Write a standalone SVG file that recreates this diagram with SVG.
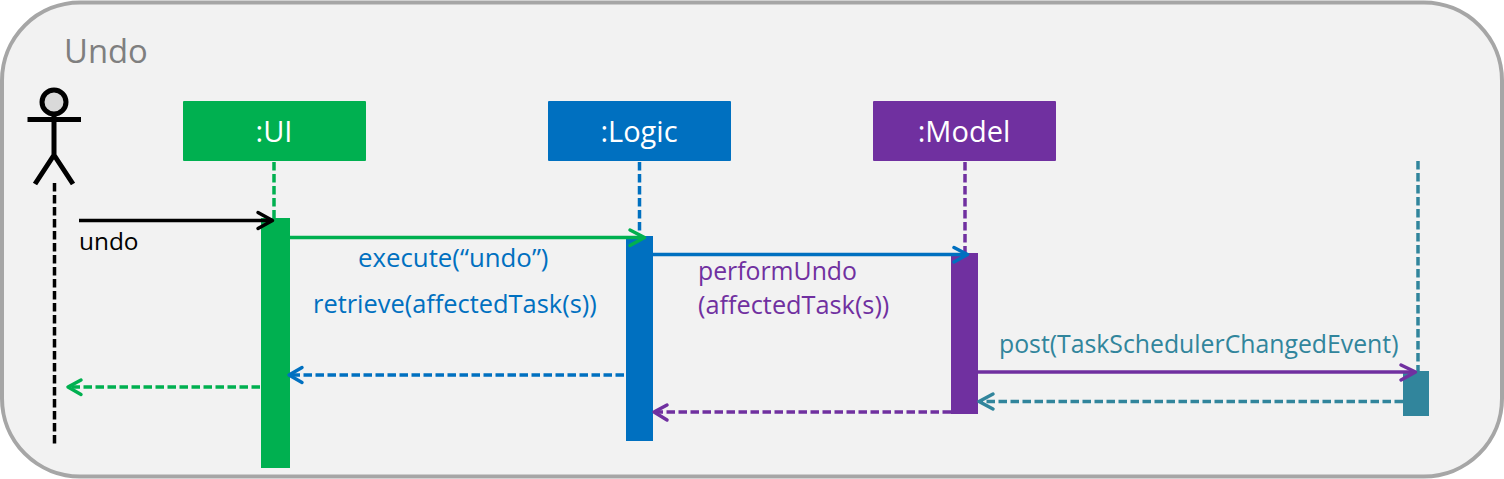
<svg xmlns="http://www.w3.org/2000/svg" width="1504" height="479" viewBox="0 0 1504 479">
<defs>
<style>
text{font-family:"Open Sans","Noto Sans",sans-serif;font-size:24.800px}
.l{fill:none;stroke-width:3.500;stroke-linecap:round;stroke-linejoin:round}
.s{fill:none;stroke-width:3.500}
.d{fill:none;stroke-width:3.500;stroke-dasharray:8.500 3.500}
.n{fill:#fff;text-anchor:middle;font-size:29px}
</style>
</defs>
<rect x="2" y="2.500" width="1500" height="474" rx="78" fill="#f2f2f2" stroke="#a6a6a6" stroke-width="4"/>
<text x="64" y="63" style="font-size:32.800px" fill="#7f7f7f">Undo</text>
<g id="actor" fill="none" stroke="#000" stroke-width="5">
<circle cx="54" cy="102" r="12" fill="#d9d9d9"/>
<path d="M54 115V155M27.500 119.500H81M54 155L35 184M54 155L73 184"/>
</g>
<g id="ui"><rect x="183" y="101" width="183" height="60" rx="1" fill="#00b050"/><text class="n" x="274" y="142">:UI</text></g>
<g id="logic"><rect x="548" y="101" width="183" height="60" rx="1" fill="#0070c0"/><text class="n" x="639" y="142">:Logic</text></g>
<g id="model"><rect x="873" y="101" width="183" height="60" rx="1" fill="#7030a0"/><text class="n" x="964" y="142">:Model</text></g>
<g id="activations">
<rect x="261" y="218" width="29" height="250" fill="#00b050"/>
<rect x="626" y="236" width="27" height="205" fill="#0070c0"/>
<rect x="951" y="253" width="27" height="161" fill="#7030a0"/>
<rect x="1403" y="371" width="26" height="45" fill="#31859c"/>
</g>
<g id="connectors">
<path class="d" stroke="#000" d="M54.500 183V444"/>
<path class="d" stroke="#00b050" d="M274 162V218"/>
<path class="d" stroke="#0070c0" d="M639.500 162V236"/>
<path class="d" stroke="#7030a0" d="M965 162V253"/>
<path class="d" stroke="#31859c" d="M1418 161V371"/>
<path class="s" stroke="#000" d="M79 220.500H272"/><path class="l" stroke="#000" d="M258 212.500L272.500 220.500L258 228.500"/>
<path class="s" stroke="#00b050" d="M290 237.500H643"/><path class="l" stroke="#00b050" d="M630 230L644.500 237.500L630 245.500"/>
<path class="s" stroke="#0070c0" d="M653 254.500H966"/><path class="l" stroke="#0070c0" d="M954 247.500L967.500 254.500L954 262"/>
<path class="s" stroke="#7030a0" d="M978 372H1414"/><path class="l" stroke="#7030a0" d="M1401 365L1415.500 372L1401 380"/>
<path class="d" stroke="#31859c" d="M1403 401.500H981"/><path class="l" stroke="#31859c" d="M993 394L979 401.500L993 409"/>
<path class="d" stroke="#7030a0" d="M951 412H656"/><path class="l" stroke="#7030a0" d="M667 405L654 412L667 420"/>
<path class="d" stroke="#0070c0" d="M624 375H291"/><path class="l" stroke="#0070c0" d="M302 367.500L289 375L302 382.500"/>
<path class="d" stroke="#00b050" d="M260 387H70"/><path class="l" stroke="#00b050" d="M81 380L68 387L81 394.500"/>
</g>
<g id="labels">
<text x="79" y="250" fill="#000" style="font-size:24.400px">undo</text>
<text x="358" y="267" fill="#0070c0" style="font-size:25.800px">execute(“undo”)</text>
<text x="313" y="313" fill="#0070c0" style="font-size:25.400px">retrieve(affectedTask(s))</text>
<text x="698" y="280" fill="#7030a0">performUndo</text>
<text x="698" y="314" fill="#7030a0" style="font-size:25.300px">(affectedTask(s))</text>
<text x="999" y="353" fill="#31859c">post(TaskSchedulerChangedEvent)</text>
</g>
</svg>
